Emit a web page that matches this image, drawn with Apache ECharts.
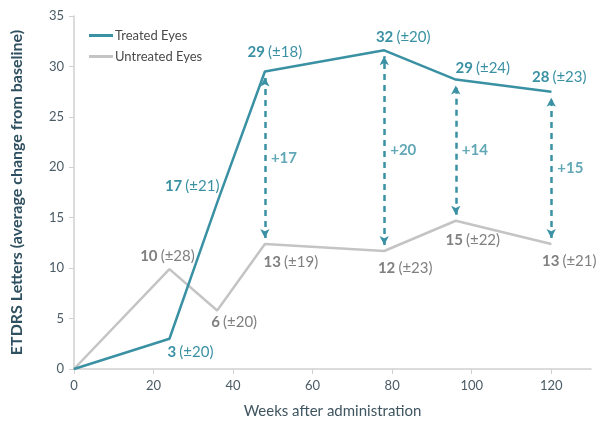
<!DOCTYPE html>
<html>
<head>
<meta charset="utf-8">
<script src="https://cdn.jsdelivr.net/npm/echarts@6/dist/echarts.min.js"></script>
<style>html,body{margin:0;padding:0;background:#fff}#c{width:599px;height:428px}</style>
</head>
<body>
<div id="c"></div>
<script>
// ---- data ----
var weeksTreated = [0, 24, 36, 48, 78, 96, 120];
var treated = [0, 3, 16.5, 29.5, 31.6, 28.7, 27.5];
var treatedLabels = [null, '3|20', '17|21', '29|18', '32|20', '29|24', '28|23'];
var weeksUntreated = [0, 24, 36, 48, 78, 96, 120];
var untreated = [0, 9.9, 5.8, 12.4, 11.7, 14.7, 12.4];
var untreatedLabels = [null, '10|28', '6|20', '13|19', '12|23', '15|22', '13|21'];
var diffWeeks = [48, 78, 96, 120];
var diffLabels = ['+17', '+20', '+14', '+15'];
var xTicks = [0, 20, 40, 60, 80, 100, 120];

// ---- styling (positions kept apart from data) ----
var TEAL = '#3a91a3', GREY = '#c4c4c4', GREYTXT = '#808080';
var FONT = 'Lato';
var treatedOffsets = [null, [21, 13], [-25, -16], [10, -19], [19, -13], [27, -11], [8, -14]];
var untreatedOffsets = [null, [-2, -13], [17, 12], [26, 18], [21, 17], [17, 19], [18, 17]];

function mkData(ws, vs, labs, offs, color) {
  return ws.map(function (w, i) {
    var d = { value: [w, vs[i]] };
    if (labs[i]) {
      var p = labs[i].split('|');
      d.label = {
        show: true, position: 'inside', offset: offs[i],
        formatter: '{b|' + p[0] + '} {n|(\u00b1' + p[1] + ')}',
        rich: {
          b: { fontFamily: FONT, fontWeight: 'bold', fontSize: 15, color: color },
          n: { fontFamily: FONT, fontSize: 15, color: color }
        }
      };
    }
    return d;
  });
}

function valAt(ws, vs, w) { return vs[ws.indexOf(w)]; }

var gap = 0.6;
var arrowLines = diffWeeks.map(function (w) {
  return [{ coord: [w, valAt(weeksUntreated, untreated, w) + gap] },
          { coord: [w, valAt(weeksTreated, treated, w) - gap] }];
});
var diffPts = diffWeeks.map(function (w, i) {
  return { value: [w, (valAt(weeksUntreated, untreated, w) + valAt(weeksTreated, treated, w)) / 2], name: diffLabels[i] };
});

var chart = echarts.init(document.getElementById('c'), null, { renderer: 'canvas' });
chart.setOption({
  animation: false,
  textStyle: { fontFamily: FONT },
  grid: { left: 74, right: 8, top: 16, bottom: 59 },
  legend: {
    orient: 'vertical', left: 84, top: 24, itemWidth: 24, itemHeight: 3, itemGap: 8,
    icon: 'rect', data: ['Treated Eyes', 'Untreated Eyes'],
    textStyle: { fontFamily: FONT, fontSize: 13, color: '#4a4a4a', padding: [0, 0, 0, -3] }
  },
  xAxis: {
    type: 'value', min: 0, max: 130, interval: 20,
    name: 'Weeks after administration', nameLocation: 'middle', nameGap: 35,
    nameTextStyle: { fontFamily: FONT, fontSize: 15, color: '#3f5560' },
    axisLine: { lineStyle: { color: '#d0d0d0', width: 1.5 } },
    axisTick: { show: true, length: 5, lineStyle: { color: '#d0d0d0' }, customValues: xTicks },
    axisLabel: { color: '#4a5b66', fontSize: 13, margin: 10, customValues: xTicks },
    splitLine: { show: false }
  },
  yAxis: {
    type: 'value', min: 0, max: 35, interval: 5,
    name: 'ETDRS Letters (average change from baseline)', nameLocation: 'middle', nameGap: 49,
    nameTextStyle: { fontFamily: FONT, fontSize: 16, fontWeight: 'bold', color: '#2f5060' },
    axisLine: { show: true, lineStyle: { color: '#d0d0d0', width: 1.5 } },
    axisTick: { show: true, length: 5, lineStyle: { color: '#d0d0d0' } },
    axisLabel: { color: '#4a5b66', fontSize: 13, margin: 10 },
    splitLine: { show: false }
  },
  series: [
    {
      name: 'Untreated Eyes', type: 'line', z: 2,
      symbol: 'circle', symbolSize: 1,
      itemStyle: { color: GREY }, lineStyle: { color: GREY, width: 2.5 },
      data: mkData(weeksUntreated, untreated, untreatedLabels, untreatedOffsets, GREYTXT)
    },
    {
      name: 'Treated Eyes', type: 'line', z: 3,
      symbol: 'circle', symbolSize: 1,
      itemStyle: { color: TEAL }, lineStyle: { color: TEAL, width: 2.5 },
      data: mkData(weeksTreated, treated, treatedLabels, treatedOffsets, TEAL),
      markLine: {
        silent: true, symbol: ['arrow', 'arrow'], symbolSize: [7, 9],
        lineStyle: { color: TEAL, width: 2.5, type: [6, 5] },
        label: { show: false },
        data: arrowLines
      }
    },
    {
      name: 'diff', type: 'scatter', symbolSize: 0, z: 4,
      label: {
        show: true, position: 'right', distance: 6, formatter: '{b}',
        fontFamily: FONT, fontWeight: 'bold', fontSize: 15, color: TEAL
      },
      data: diffPts
    }
  ]
});
</script>
</body>
</html>
